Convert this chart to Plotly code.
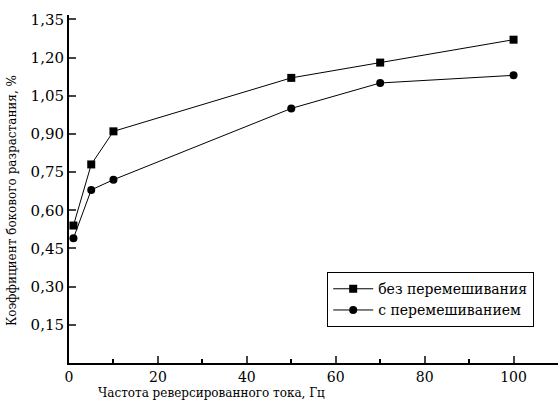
import plotly.graph_objects as go

freq = [1, 5, 10, 50, 70, 100]
no_mix = [0.54, 0.78, 0.91, 1.12, 1.18, 1.27]
with_mix = [0.49, 0.68, 0.72, 1.00, 1.10, 1.13]
names = ["без перемешивания", "с перемешиванием"]
y_ticks = [0.15, 0.30, 0.45, 0.60, 0.75, 0.90, 1.05, 1.20, 1.35]
x_ticks = [0, 20, 40, 60, 80, 100]
x_title = "Частота реверсированного тока, Гц"
y_title = "Коэффициент бокового разрастания, %"

font = "DejaVu Serif"

fig = go.Figure()
fig.add_trace(go.Scatter(x=freq, y=no_mix, mode="lines+markers", name=names[0],
                         line=dict(color="black", width=1),
                         marker=dict(symbol="square", size=8, color="black")))
fig.add_trace(go.Scatter(x=freq, y=with_mix, mode="lines+markers", name=names[1],
                         line=dict(color="black", width=1),
                         marker=dict(symbol="circle", size=8, color="black")))

fig.update_layout(
    width=558, height=400,
    margin=dict(l=69, r=0, t=15, b=37),
    paper_bgcolor="white", plot_bgcolor="white",
    separators=", ",
    font=dict(family=font, color="black", size=16),
    showlegend=True,
    legend=dict(x=0.528, y=0.261, xanchor="left", yanchor="top",
                bordercolor="black", borderwidth=1, bgcolor="white",
                font=dict(family=font, size=14, color="black"),
                itemwidth=40, tracegroupgap=0),
    xaxis=dict(range=[0, 110], tickvals=x_ticks, ticks="inside", ticklen=7, tickwidth=2,
               showline=True, linewidth=2, linecolor="black", showgrid=False, zeroline=False,
               tickformat="d",
               minor=dict(dtick=10, tick0=0, ticks="inside", ticklen=4, tickwidth=2, tickcolor="black"),
               tickfont=dict(family=font, size=14)),
    yaxis=dict(range=[0, 1.367], tickvals=y_ticks, ticks="inside", ticklen=7, tickwidth=2,
               showline=True, linewidth=2, linecolor="black", showgrid=False, zeroline=False,
               tickformat=".2f", tickfont=dict(family=font, size=15)),
    annotations=[
        dict(text=x_title, xref="paper", yref="paper", x=0.292, y=-0.086,
             xanchor="center", yanchor="middle", showarrow=False,
             font=dict(family=font, size=12, color="black")),
        dict(text=y_title, xref="paper", yref="paper", x=-0.1166, y=0.468,
             xanchor="center", yanchor="middle", showarrow=False, textangle=-90,
             font=dict(family=font, size=12, color="black")),
    ],
)

fig.write_html("out.html")
